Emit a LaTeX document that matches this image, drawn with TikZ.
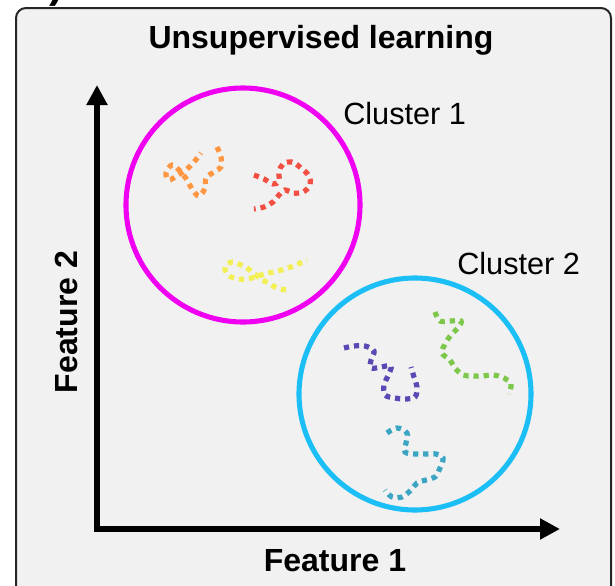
\documentclass[tikz,border=0pt]{standalone}
\usepackage{fontspec}
\setmainfont{Liberation Sans}
\usetikzlibrary{arrows.meta}

\definecolor{panelgray}{RGB}{241,241,241}
\definecolor{clusterpink}{RGB}{240,0,240}
\definecolor{clusterblue}{RGB}{27,190,245}
\definecolor{blobtangerine}{RGB}{255,150,65}
\definecolor{blobred}{RGB}{242,78,66}
\definecolor{blobyellow}{RGB}{242,240,85}
\definecolor{blobpurple}{RGB}{90,72,180}
\definecolor{blobgreen}{RGB}{125,200,75}
\definecolor{blobteal}{RGB}{60,165,195}

\begin{document}
\begin{tikzpicture}[
    x=0.75pt, y=-0.75pt,
    panel/.style={draw=black!85, line width=1.5pt, fill=panelgray, rounded corners=7.5pt},
    axis/.style={line width=4.5pt, line join=miter, {Triangle[length=15pt,width=15pt]}-{Triangle[length=15pt,width=15pt]}},
    cluster/.style={line width=3.8pt},
    blob/.style={line width=3.9pt, dash pattern=on 3.9pt off 3.7pt},
    heading/.style={inner sep=0pt, anchor=base, font=\bfseries\fontsize{24}{28}\selectfont},
    clabel/.style={inner sep=0pt, anchor=base west, font=\fontsize{23}{27}\selectfont}
]
\useasboundingbox (0,0) rectangle (615,586);

% Panel
\draw[panel] (16,8) rectangle (611,625);
\node[heading, anchor=base east, font=\bfseries\fontsize{32}{36}\selectfont] (tag) at (64,-3) {b)};

% Title
\node[heading] (title) at (321,48) {Unsupervised learning};

% Axes
\coordinate (origin) at (97,529);
\coordinate (ytip) at (97,85);
\coordinate (xtip) at (560,529);
\draw[axis] (ytip) -- (origin) -- (xtip);
\node[heading] (xlabel) at (335,571) {Feature 1};
\node[heading, rotate=90] (ylabel) at (77,322) {Feature 2};

% Clusters
\node[circle, draw=clusterpink, cluster, minimum size=234*0.75pt, inner sep=0pt] (c1) at (243,205) {};
\node[circle, draw=clusterblue, cluster, minimum size=232*0.75pt, inner sep=0pt] (c2) at (415,394) {};
\node[clabel] (c1label) at (343,124) {Cluster 1};
\node[clabel] (c2label) at (457,274) {Cluster 2};

% Data inside cluster 1
\draw[blob, blobtangerine] plot[smooth, tension=0.6] coordinates {(217,147) (221,157) (221,167) (214,172) (206,178) (205,188) (199,196) (192,189) (187,180) (180,171) (172,165) (166,173) (169,180) (178,175) (187,169) (194,162) (201,153)};
\draw[blob, blobred] plot[smooth, tension=0.6] coordinates {(254,175) (264,179) (273,184) (279,181) (279,172) (283,164) (292,162) (301,168) (309,176) (310,185) (303,192) (293,193) (285,190) (279,195) (273,202) (264,207) (254,209)};
\draw[blob, blobyellow] plot[smooth, tension=0.6] coordinates {(286,290) (277,288) (268,283) (258,277) (250,270) (241,265) (232,262) (225,267) (228,275) (238,279) (248,279) (258,276) (268,273) (278,271) (288,268) (298,264) (307,260)};

% Data inside cluster 2
\draw[blob, blobpurple] plot[smooth, tension=0.6] coordinates {(344,348) (354,346) (365,346) (374,351) (371,360) (371,368) (381,367) (391,366) (388,376) (384,385) (385,395) (395,398) (405,399) (415,397) (417,387) (414,377) (411,367)};
\draw[blob, blobgreen] plot[smooth, tension=0.6] coordinates {(435,312) (440,321) (450,321) (461,321) (458,328) (451,335) (445,344) (442,353) (450,360) (455,368) (463,375) (473,376) (483,376) (493,375) (504,378) (511,384) (509,394)};
\draw[blob, blobteal] plot[smooth, tension=0.6] coordinates {(387,433) (397,428) (407,433) (406,443) (405,452) (415,454) (425,454) (436,454) (443,458) (440,468) (435,477) (426,480) (417,483) (411,490) (402,497) (392,497) (385,490)};

\end{tikzpicture}
\end{document}
